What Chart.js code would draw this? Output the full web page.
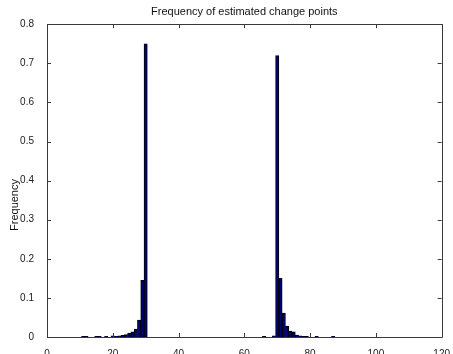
<!DOCTYPE html>
<html>
<head>
<meta charset="utf-8">
<script src="https://cdn.jsdelivr.net/npm/chart.js@4/dist/chart.umd.min.js"></script>
<style>
  html, body { margin: 0; padding: 0; background: #fff; }
  #wrap { width: 453px; height: 354px; }
</style>
</head>
<body>
<div id="wrap"><canvas id="c" width="453" height="354"></canvas></div>
<script>
// Histogram bins (estimated change point position) and their relative frequency
const bins = [11, 12, 15, 16, 18, 20, 21, 22, 23, 24, 25, 26, 27, 28, 29, 30,
              66, 69, 70, 71, 72, 73, 74, 75, 76, 77, 78, 79, 82, 87];
const freq = [0.002, 0.002, 0.002, 0.002, 0.002, 0.003, 0.002, 0.003, 0.004, 0.006, 0.010, 0.013, 0.020, 0.043, 0.145, 0.750,
              0.002, 0.003, 0.720, 0.150, 0.061, 0.028, 0.015, 0.013, 0.005, 0.003, 0.002, 0.002, 0.002, 0.002];
const xTicks = [0, 20, 40, 60, 80, 100, 120];
const yTicks = [0, 0.1, 0.2, 0.3, 0.4, 0.5, 0.6, 0.7, 0.8];

const titleText = 'Frequency of estimated change points';
const yLabel = 'Frequency';

const points = bins.map((b, i) => ({ x: b, y: freq[i] }));

const boxPlugin = {
  id: 'matlabBox',
  afterDatasetsDraw(chart) {
    const { ctx, chartArea: a, scales } = chart;
    ctx.save();
    ctx.strokeStyle = '#3a3a3a';
    ctx.lineWidth = 1;
    ctx.beginPath();
    ctx.rect(Math.round(a.left) + 0.5, Math.round(a.top) + 0.5,
             Math.round(a.right - a.left), Math.round(a.bottom - a.top));
    ctx.stroke();
    const L = 4;
    ctx.beginPath();
    scales.x.ticks.forEach(t => {
      const px = Math.round(scales.x.getPixelForValue(t.value)) + 0.5;
      ctx.moveTo(px, a.bottom); ctx.lineTo(px, a.bottom - L);
      ctx.moveTo(px, a.top); ctx.lineTo(px, a.top + L);
    });
    scales.y.ticks.forEach(t => {
      const py = Math.round(scales.y.getPixelForValue(t.value)) + 0.5;
      ctx.moveTo(a.left, py); ctx.lineTo(a.left + L, py);
      ctx.moveTo(a.right, py); ctx.lineTo(a.right - L, py);
    });
    ctx.stroke();
    // y-axis label, placed like the reference (slightly below the axis centre)
    ctx.fillStyle = '#111';
    ctx.font = '11px "Liberation Sans"';
    ctx.textAlign = 'center';
    ctx.textBaseline = 'middle';
    ctx.translate(15, 205);
    ctx.rotate(-Math.PI / 2);
    ctx.fillText(yLabel, 0, 0);
    ctx.restore();
  }
};

new Chart(document.getElementById('c'), {
  type: 'bar',
  data: {
    datasets: [{
      data: points,
      backgroundColor: '#00007a',
      borderColor: '#000000',
      borderWidth: 1,
      barPercentage: 1.0,
      categoryPercentage: 1.0,
      grouped: false
    }]
  },
  options: {
    responsive: false,
    animation: false,
    layout: { padding: { left: 0, right: 10, top: 0, bottom: 0 } },
    plugins: {
      legend: { display: false },
      tooltip: { enabled: false },
      title: {
        display: true,
        text: titleText,
        fullSize: false,
        color: '#111',
        font: { family: 'Liberation Sans', size: 11, weight: 'normal' },
        padding: { top: 5, bottom: 6 }
      }
    },
    scales: {
      x: {
        type: 'linear',
        min: 0, max: 120,
        offset: false,
        afterBuildTicks: s => { s.ticks = xTicks.map(v => ({ value: v })); },
        afterFit: s => { s.height = 17; },
        grid: { display: false },
        border: { display: false },
        ticks: {
          color: '#222',
          padding: 3,
          font: { family: 'Liberation Sans', size: 10 },
          maxRotation: 0
        }
      },
      y: {
        min: 0, max: 0.8,
        afterBuildTicks: s => { s.ticks = yTicks.map(v => ({ value: v })); },
        afterFit: s => { s.width = 47; },
        grid: { display: false },
        border: { display: false },
        ticks: {
          color: '#222',
          padding: 5,
          font: { family: 'Liberation Sans', size: 10 },
          callback: v => String(Math.round(v * 10) / 10)
        }
      }
    }
  },
  plugins: [boxPlugin]
});
</script>
</body>
</html>
